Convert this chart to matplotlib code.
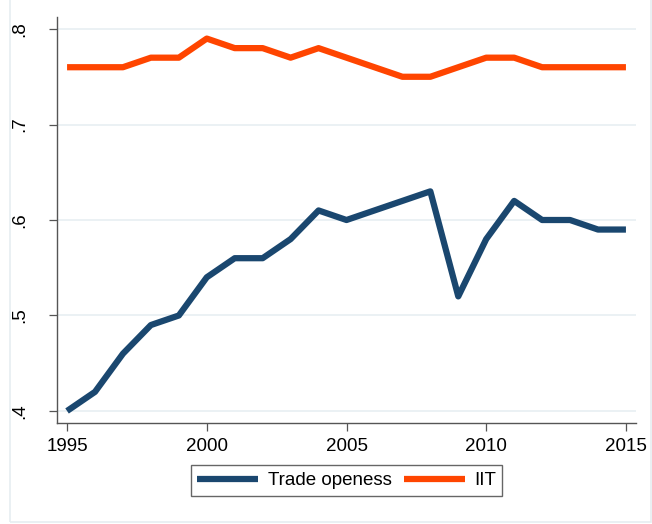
import matplotlib
matplotlib.use("Agg")
import matplotlib.pyplot as plt
from matplotlib.patches import Rectangle

# Yearly series
years = list(range(1995, 2016))
trade_openess = [0.40, 0.42, 0.46, 0.49, 0.50, 0.54, 0.56, 0.56, 0.58, 0.61, 0.60,
                 0.61, 0.62, 0.63, 0.52, 0.58, 0.62, 0.60, 0.60, 0.59, 0.59]
iit = [0.76, 0.76, 0.76, 0.77, 0.77, 0.79, 0.78, 0.78, 0.77, 0.78, 0.77,
       0.76, 0.75, 0.75, 0.76, 0.77, 0.77, 0.76, 0.76, 0.76, 0.76]

y_ticks = [0.4, 0.5, 0.6, 0.7, 0.8]
y_labels = [".4", ".5", ".6", ".7", ".8"]
x_ticks = [1995, 2000, 2005, 2010, 2015]

plt.rcParams['font.family'] = ['Liberation Sans', 'DejaVu Sans']

fig = plt.figure(figsize=(6.52, 5.24), dpi=100)
fig.patch.set_facecolor("white")

# light frame around the graph region
fig.add_artist(Rectangle((10 / 652, 2 / 524), 641 / 652, 540 / 524, transform=fig.transFigure,
                         fill=False, edgecolor="#e6eef1", linewidth=1.2))

ax = fig.add_axes([57 / 652, 1 - 423 / 524, 579 / 652, 406 / 524])
ax.plot(years, trade_openess, color="#1a476f", linewidth=4.5, solid_joinstyle="round",
        solid_capstyle="butt", label="Trade openess")
ax.plot(years, iit, color="#ff4500", linewidth=4.5, solid_joinstyle="round",
        solid_capstyle="butt", label="IIT")

ax.set_xlim(1994.64, 2015.36)
ax.set_ylim(0.3874, 0.8126)
ax.set_xticks(x_ticks)
ax.set_yticks(y_ticks)
ax.set_yticklabels(y_labels, rotation=90, va="center")
ax.tick_params(axis="both", labelsize=13.5, length=6, width=0.9, color="#555555")
ax.tick_params(axis="x", pad=5)
ax.tick_params(axis="y", pad=15)
ax.grid(axis="y", color="#e8eff2", linewidth=1.2)
ax.set_axisbelow(True)

for side in ["top", "right"]:
    ax.spines[side].set_visible(False)
for side in ["left", "bottom"]:
    ax.spines[side].set_color("#555555")
    ax.spines[side].set_linewidth(1.0)

leg = fig.legend(loc="center", bbox_to_anchor=(346.5 / 652, 1 - 480.5 / 524), ncol=2,
                 fontsize=13.5, frameon=True, fancybox=False, handlelength=3.25,
                 handletextpad=0.5, columnspacing=0.65, borderpad=0.35, borderaxespad=0)
leg.get_frame().set_edgecolor("#404040")
leg.get_frame().set_linewidth(1.0)

fig.savefig("out.png", dpi=100)
